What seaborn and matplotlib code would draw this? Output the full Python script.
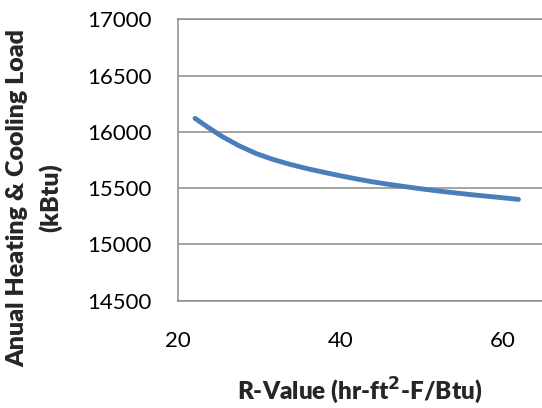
import matplotlib
matplotlib.use("Agg")
import matplotlib.pyplot as plt
import seaborn as sns
import pandas as pd

# Data
r_values = [22.1, 23.8, 25.5, 27.5, 29.6, 31.6, 33.7, 35.8, 37.8, 39.9, 42.1,
            43.8, 45.8, 47.9, 50.0, 52.0, 54.1, 56.1, 58.2, 60.3, 61.9]
loads = [16120, 16035, 15956, 15877, 15808, 15757, 15713, 15675, 15643, 15611, 15580,
         15558, 15535, 15514, 15493, 15475, 15458, 15442, 15427, 15412, 15400]

x_ticks = [20, 40, 60]
y_ticks = [14500, 15000, 15500, 16000, 16500, 17000]

sns.set_theme(style="white")
plt.rcParams['font.family'] = ['Lato', 'DejaVu Sans']

df = pd.DataFrame({"R": r_values, "Load": loads})

fig = plt.figure(figsize=(5.42, 4.08), dpi=100)
ax = fig.add_axes([178/542, (408-300.7)/408, (542-178)/542, (300.7-19.3)/408])

sns.lineplot(data=df, x="R", y="Load", ax=ax, color="#4A7EBB", linewidth=3.5,
             solid_capstyle="round", solid_joinstyle="round")

ax.set_xlim(20, 64.8)
ax.set_ylim(14500, 17000)
ax.set_xticks(x_ticks)
ax.set_yticks(y_ticks)
ax.tick_params(axis="both", length=0, labelsize=16, colors="#000000")
ax.tick_params(axis="x", pad=22)
ax.tick_params(axis="y", pad=19)

ax.grid(axis="y", color="#8c8c8c", linewidth=1.1)
ax.grid(axis="x", visible=False)
ax.spines["right"].set_visible(False)
for s in ["left", "bottom", "top"]:
    ax.spines[s].set_color("#8c8c8c")
    ax.spines[s].set_linewidth(1.1)

ax.set_xlabel("R-Value (hr-ft$^{\\mathbf{2}}$-F/Btu)", fontsize=17.5, fontweight="heavy")
ax.set_ylabel("Anual Heating & Cooling Load\n(kBtu)", fontsize=18, fontweight="heavy",
              linespacing=1.5)
ax.xaxis.set_label_coords(0.5, -0.265)
ax.yaxis.set_label_coords(-0.318, 0.365)

fig.savefig("out.png", dpi=100)
